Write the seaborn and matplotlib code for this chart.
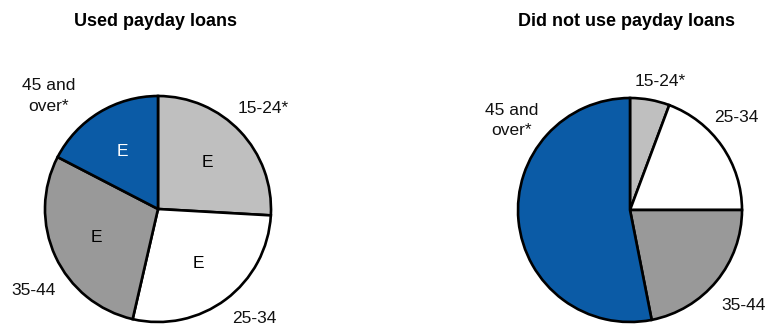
import matplotlib
matplotlib.use("Agg")
import matplotlib.pyplot as plt
import seaborn as sns
import numpy as np

# Age distribution (%) of borrowers vs. non-borrowers
age_groups = ["15-24*", "25-34", "35-44", "45 and\nover*"]
used_share = [25.9, 27.7, 29.0, 17.4]
not_used_share = [5.7, 19.3, 21.9, 53.1]
used_flags = ["E", "E", "E", "E"]
not_used_flags = ["", "", "", ""]
titles = ["Used payday loans", "Did not use payday loans"]

slice_colors = ["#BFBFBF", "#FFFFFF", "#999999", "#0B5BA6"]
flag_colors = ["black", "black", "black", "white"]

sns.set_theme(style="white")
plt.rcParams["font.family"] = ["Liberation Sans", "DejaVu Sans"]
plt.rcParams["text.color"] = "black"

W, H = 765, 327
fig = plt.figure(figsize=(W / 100, H / 100), dpi=100)


def pie_axes(cx, cy, r):
    return fig.add_axes([(cx - r) / W, (H - cy - r) / H, 2 * r / W, 2 * r / H])


def draw_pie(ax, shares, flags, label_pos):
    wedges, _ = ax.pie(
        shares,
        colors=slice_colors,
        startangle=90,
        counterclock=False,
        radius=1.0,
        wedgeprops=dict(edgecolor="black", linewidth=1.9),
    )
    for w, flag, fc in zip(wedges, flags, flag_colors):
        if not flag:
            continue
        mid = np.deg2rad((w.theta1 + w.theta2) / 2)
        ax.text(0.6 * np.cos(mid), 0.6 * np.sin(mid), flag, ha="center",
                va="center", fontsize=12.5, color=fc)
    for name, (x, y) in zip(age_groups, label_pos):
        ax.text(x, y, name, ha="center", va="center", fontsize=12.5,
                color="#111111", linespacing=1.45, clip_on=False)
    ax.set_xlim(-1, 1)
    ax.set_ylim(-1, 1)
    ax.set_aspect("equal")
    ax.axis("off")


ax_left = pie_axes(158, 209, 113)
draw_pie(ax_left, used_share, used_flags,
         [(0.93, 0.89), (0.85, -0.97), (-1.10, -0.72), (-0.97, 1.0)])

ax_right = pie_axes(630, 210, 112)
draw_pie(ax_right, not_used_share, not_used_flags,
         [(0.27, 1.15), (0.95, 0.83), (1.01, -0.85), (-1.06, 0.80)])

fig.text(155 / W, 1 - 21.5 / H, titles[0], ha="center", va="center",
         fontsize=13, fontweight="bold", color="black")
fig.text(627 / W, 1 - 21.5 / H, titles[1], ha="center", va="center",
         fontsize=13, fontweight="bold", color="black")

fig.savefig("out.png", dpi=100, facecolor="white")
